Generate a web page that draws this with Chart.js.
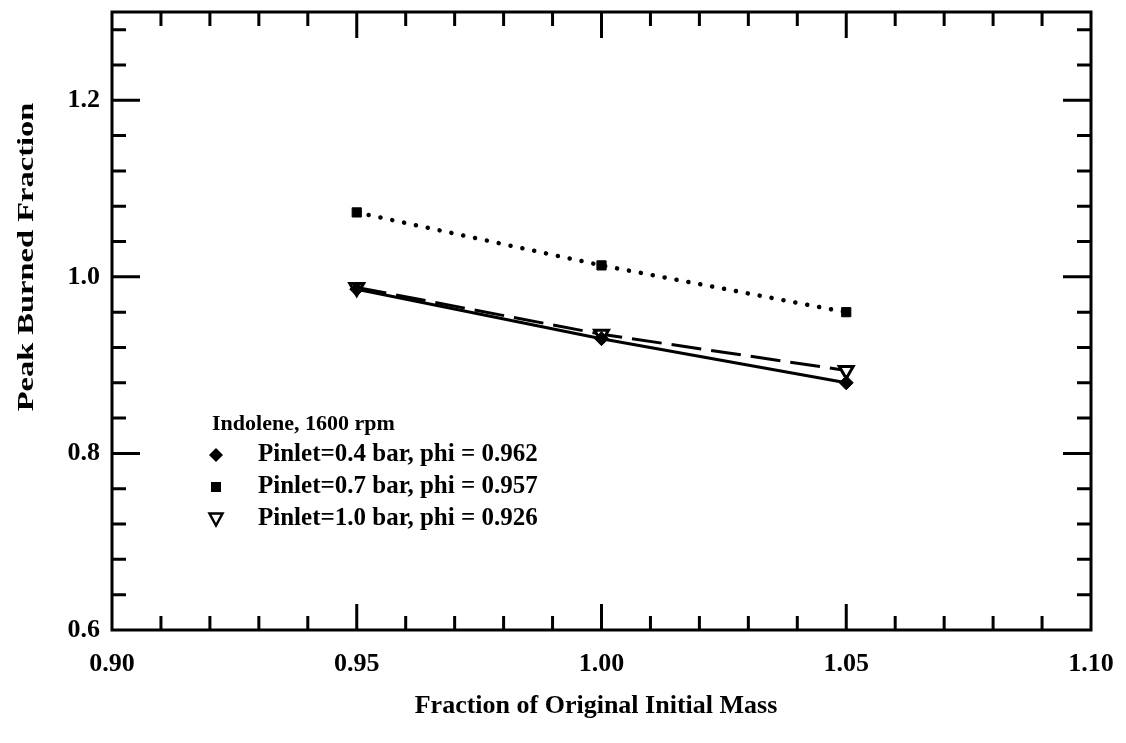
<!DOCTYPE html>
<html>
<head>
<meta charset="utf-8">
<script src="https://cdn.jsdelivr.net/npm/chart.js@4.4.0/dist/chart.umd.min.js"></script>
<style>
  html, body { margin: 0; padding: 0; background: #fff; }
  #wrap { width: 1126px; height: 743px; }
</style>
</head>
<body>
<div id="wrap"><canvas id="chart" width="1126" height="743"></canvas></div>
<script>
const massFractions = [0.95, 1.00, 1.05];
const pinlet04 = [0.986, 0.930, 0.880];
const pinlet07 = [1.073, 1.013, 0.960];
const pinlet10 = [0.988, 0.935, 0.894];

const seriesLabels = [
  'Pinlet=0.4 bar, phi = 0.962',
  'Pinlet=0.7 bar, phi = 0.957',
  'Pinlet=1.0 bar, phi = 0.926'
];
const legendTitle = 'Indolene, 1600 rpm';

const xTicks = [0.90, 0.91, 0.92, 0.93, 0.94, 0.95, 0.96, 0.97, 0.98, 0.99, 1.00,
  1.01, 1.02, 1.03, 1.04, 1.05, 1.06, 1.07, 1.08, 1.09, 1.10];
const xLabelled = [0.90, 0.95, 1.00, 1.05, 1.10];
const yTicks = [0.60, 0.64, 0.68, 0.72, 0.76, 0.80, 0.84, 0.88, 0.92, 0.96, 1.00,
  1.04, 1.08, 1.12, 1.16, 1.20, 1.24, 1.28];
const yLabelled = [0.6, 0.8, 1.0, 1.2];

const FONT = '"Liberation Serif", "DejaVu Serif", serif';

function toPoints(ys) {
  return massFractions.map((x, i) => ({ x, y: ys[i] }));
}

function isLabelled(list, v) {
  return list.some(l => Math.abs(l - v) < 1e-6);
}

function drawMarker(ctx, kind, x, y) {
  ctx.save();
  ctx.fillStyle = '#000';
  ctx.strokeStyle = '#000';
  ctx.lineWidth = 2.5;
  ctx.beginPath();
  if (kind === 'diamond') {
    ctx.moveTo(x, y - 7); ctx.lineTo(x + 7, y); ctx.lineTo(x, y + 7); ctx.lineTo(x - 7, y);
    ctx.closePath(); ctx.fill();
  } else if (kind === 'square') {
    ctx.rect(x - 5, y - 5, 10, 10); ctx.fill();
  } else {
    ctx.moveTo(x - 6.5, y - 5.5); ctx.lineTo(x + 6.5, y - 5.5); ctx.lineTo(x, y + 6.5);
    ctx.closePath(); ctx.stroke();
  }
  ctx.restore();
}

const framePlugin = {
  id: 'frame',
  afterDraw(chart) {
    const { ctx, chartArea: a, scales } = chart;
    ctx.save();
    ctx.strokeStyle = '#000';
    ctx.lineWidth = 3;
    ctx.strokeRect(a.left, a.top, a.right - a.left, a.bottom - a.top);

    // inward ticks on all four sides
    ctx.beginPath();
    xTicks.forEach(v => {
      const px = scales.x.getPixelForValue(v);
      if (px <= a.left + 2 || px >= a.right - 2) return;
      const len = isLabelled(xLabelled, v) ? 26 : 14;
      ctx.moveTo(px, a.bottom); ctx.lineTo(px, a.bottom - len);
      ctx.moveTo(px, a.top); ctx.lineTo(px, a.top + len);
    });
    yTicks.forEach(v => {
      const py = scales.y.getPixelForValue(v);
      if (py >= a.bottom - 2 || py <= a.top + 2) return;
      const len = isLabelled(yLabelled, v) ? 28 : 14;
      ctx.moveTo(a.left, py); ctx.lineTo(a.left + len, py);
      ctx.moveTo(a.right, py); ctx.lineTo(a.right - len, py);
    });
    ctx.stroke();

    // axis titles
    ctx.fillStyle = '#000';
    ctx.font = 'bold 26px ' + FONT;
    ctx.textAlign = 'center';
    ctx.textBaseline = 'middle';
    ctx.fillText('Fraction of Original Initial Mass', 596, 706);
    ctx.save();
    ctx.translate(27, 257);
    ctx.rotate(-Math.PI / 2);
    ctx.scale(1.25, 0.85);
    ctx.fillText('Peak Burned Fraction', 0, 0);
    ctx.restore();

    // legend inside plot
    ctx.textAlign = 'left';
    ctx.font = 'bold 22px ' + FONT;
    ctx.fillText(legendTitle, 212, 424);
    ctx.font = 'bold 25px ' + FONT;
    const kinds = ['diamond', 'square', 'triangle'];
    seriesLabels.forEach((label, i) => {
      const y = 455 + i * 32;
      drawMarker(ctx, kinds[i], 216, y);
      ctx.fillText(label, 258, y);
    });
    ctx.restore();
  }
};

new Chart(document.getElementById('chart'), {
  type: 'scatter',
  data: {
    datasets: [
      {
        label: seriesLabels[0],
        data: toPoints(pinlet04),
        showLine: true,
        borderColor: '#000',
        borderWidth: 3,
        pointStyle: 'rectRot',
        pointRadius: 7,
        pointBackgroundColor: '#000',
        pointBorderColor: '#000',
        pointBorderWidth: 1
      },
      {
        label: seriesLabels[1],
        data: toPoints(pinlet07),
        showLine: true,
        borderColor: '#000',
        borderWidth: 4.5,
        borderDash: [0.1, 12],
        borderCapStyle: 'round',
        pointStyle: 'rect',
        pointRadius: 6.5,
        pointBackgroundColor: '#000',
        pointBorderColor: '#000',
        pointBorderWidth: 1
      },
      {
        label: seriesLabels[2],
        data: toPoints(pinlet10),
        showLine: true,
        borderColor: '#000',
        borderWidth: 3,
        borderDash: [30, 10],
        pointStyle: 'triangle',
        rotation: 180,
        pointRadius: 8,
        pointBackgroundColor: '#fff',
        pointBorderColor: '#000',
        pointBorderWidth: 3
      }
    ]
  },
  options: {
    responsive: false,
    animation: false,
    layout: { padding: { left: 0, top: 12, right: 35, bottom: 0 } },
    plugins: {
      legend: { display: false },
      tooltip: { enabled: false }
    },
    scales: {
      x: {
        type: 'linear',
        min: 0.90,
        max: 1.10,
        afterBuildTicks: s => { s.ticks = xTicks.map(v => ({ value: v })); },
        afterFit: s => { s.height = 113; s.paddingLeft = 0; s.paddingRight = 0; },
        grid: { display: false, drawTicks: false },
        border: { display: false },
        ticks: {
          autoSkip: false,
          maxRotation: 0,
          padding: 19,
          color: '#000',
          font: { family: FONT, size: 26, weight: 'bold' },
          callback: v => isLabelled(xLabelled, v) ? v.toFixed(2) : ''
        }
      },
      y: {
        type: 'linear',
        min: 0.6,
        max: 1.3,
        afterBuildTicks: s => { s.ticks = yTicks.map(v => ({ value: v })); },
        afterFit: s => { s.width = 112; s.paddingTop = 0; s.paddingBottom = 0; },
        grid: { display: false, drawTicks: false },
        border: { display: false },
        ticks: {
          autoSkip: false,
          padding: 12,
          color: '#000',
          font: { family: FONT, size: 26, weight: 'bold' },
          callback: v => isLabelled(yLabelled, v) ? v.toFixed(1) : ''
        }
      }
    }
  },
  plugins: [framePlugin]
});
</script>
</body>
</html>
